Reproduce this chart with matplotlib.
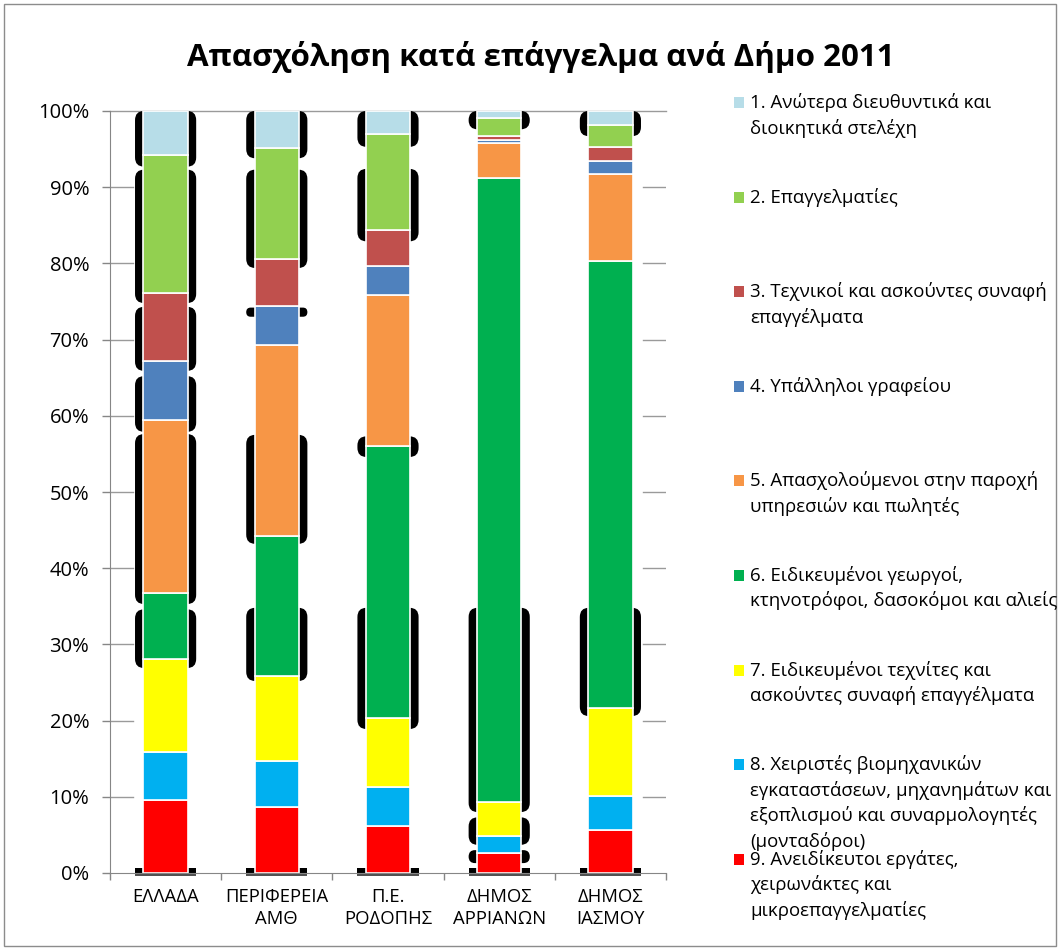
import matplotlib

matplotlib.use("Agg")
import matplotlib.pyplot as plt
import numpy as np
from matplotlib.patches import FancyBboxPatch, Rectangle

plt.rcParams["font.family"] = ["Open Sans", "DejaVu Sans"]

W, H = 1060, 950

categories = ["ΕΛΛΑΔΑ", "ΠΕΡΙΦΕΡΕΙΑ\nΑΜΘ", "Π.Ε.\nΡΟΔΟΠΗΣ", "ΔΗΜΟΣ\nΑΡΡΙΑΝΩΝ", "ΔΗΜΟΣ\nΙΑΣΜΟΥ"]

# share of employed (%) per occupation group
managers = [5.8, 4.8, 3.0, 0.9, 1.9]
professionals = [18.1, 14.6, 12.6, 2.4, 2.8]
technicians = [8.9, 6.2, 4.7, 0.5, 1.8]
clerks = [7.8, 5.1, 3.9, 0.4, 1.8]
services = [22.6, 25.1, 19.7, 4.6, 11.4]
agriculture = [8.7, 18.4, 35.8, 81.9, 58.6]
craft = [12.2, 11.1, 9.0, 4.4, 11.6]
operators = [6.3, 6.1, 5.1, 2.3, 4.5]
unskilled = [9.6, 8.6, 6.2, 2.6, 5.6]

series = [managers, professionals, technicians, clerks, services,
          agriculture, craft, operators, unskilled]
colors = ["#B7DDE8", "#92D050", "#C0504D", "#4F81BD", "#F79646",
          "#00B050", "#FFFF00", "#00B0F0", "#FF0000"]
legend_labels = [
    ["1. Ανώτερα διευθυντικά και", "διοικητικά στελέχη"],
    ["2. Επαγγελματίες"],
    ["3. Τεχνικοί και ασκούντες συναφή", "επαγγέλματα"],
    ["4. Υπάλληλοι γραφείου"],
    ["5. Απασχολούμενοι στην παροχή", "υπηρεσιών και πωλητές"],
    ["6. Ειδικευμένοι γεωργοί,", "κτηνοτρόφοι, δασοκόμοι και αλιείς"],
    ["7. Ειδικευμένοι τεχνίτες και", "ασκούντες συναφή επαγγέλματα"],
    ["8. Χειριστές βιομηχανικών", "εγκαταστάσεων, μηχανημάτων και",
     "εξοπλισμού και συναρμολογητές", "(μονταδόροι)"],
    ["9. Ανειδίκευτοι εργάτες,", "χειρωνάκτες και", "μικροεπαγγελματίες"],
]

# black rounded "shadow" pieces behind the bars (top %, bottom %)
outline_spans = [
    [(100, 92.7), (92.3, 74.8), (74.3, 65.9), (65.2, 57.9), (57.6, 35.3), (34.6, 26.9)],
    [(100, 93.8), (92.3, 79.4), (74.2, 73.0), (57.5, 43.2), (34.8, 25.2)],
    [(100, 95.3), (92.4, 82.9), (57.3, 54.6), (34.8, 18.9)],
    [(100, 97.6), (34.8, 8.0), (7.3, 3.7), (3.0, 1.3)],
    [(100, 96.7), (34.8, 20.6)],
]

fig = plt.figure(figsize=(W / 100, H / 100), dpi=100)
fig.patches.append(Rectangle((0.004, 0.004), 0.992, 0.992, transform=fig.transFigure,
                             fill=False, ec="#8c8c8c", lw=1))
ax = fig.add_axes([110 / W, 1 - 873 / H, 556 / W, 762 / H])

x = np.arange(len(categories))
bar_w = 0.4
shadow_w = 0.55
aspect = 15

# shadows
for i, spans in enumerate(outline_spans):
    for top, bot in spans:
        h = top - bot
        rs = min(0.08, 0.5 * h / aspect)
        ax.add_patch(FancyBboxPatch((x[i] - shadow_w / 2, bot), shadow_w, h,
                                    boxstyle=f"round,pad=0,rounding_size={rs}",
                                    mutation_aspect=aspect, fc="black", ec="none", zorder=1))
ax.bar(x, 0.7, width=shadow_w, color="black", zorder=1)
ax.hlines(np.full(len(x), -0.3), x - shadow_w / 2, x + shadow_w / 2, color="#303030",
          lw=1.2, clip_on=False, zorder=3)

# stacked bars, group 9 at the bottom
bottom = np.zeros(len(categories))
for vals, c in zip(series[::-1], colors[::-1]):
    ax.bar(x, vals, width=bar_w, bottom=bottom, color=c, edgecolor="white",
           linewidth=1.2, zorder=2)
    bottom += np.array(vals)

# gridlines only show at the edges of the plot area
for y in range(10, 100, 10):
    ax.axhline(y, xmin=0, xmax=0.041, color="#9a9a9a", lw=1, zorder=0)
    ax.axhline(y, xmin=0.959, xmax=1, color="#9a9a9a", lw=1, zorder=0)
ax.axhline(100, color="#9a9a9a", lw=1, zorder=0, clip_on=False)

ax.set_xlim(-0.5, 4.5)
ax.set_ylim(0, 100)
ax.set_yticks(range(0, 101, 10))
ax.set_yticklabels([f"{v}%" for v in range(0, 101, 10)])
ax.set_xticks(x)
ax.set_xticklabels(categories)
ax.set_xticks(np.arange(-0.5, 5, 1), minor=True)
ax.tick_params(axis="y", length=6, width=1, color="#868686", pad=9, labelsize=14.5)
ax.tick_params(axis="x", which="major", length=0, pad=11, labelsize=13.3)
ax.tick_params(axis="x", which="minor", length=5, width=1, color="#868686")
for t in ax.get_xticklabels():
    t.set_linespacing(1.25)
for spine in ("top", "right"):
    ax.spines[spine].set_visible(False)
for spine in ("left", "bottom"):
    ax.spines[spine].set_color("#868686")

fig.text(541 / W, 1 - 57 / H, "Απασχόληση κατά επάγγελμα ανά Δήμο 2011",
         ha="center", va="center", fontsize=22.6, fontweight="bold")

# legend drawn by hand so the entries keep the original spacing
for i, (c, lines) in enumerate(zip(colors, legend_labels)):
    base = 108 + 94.6 * i
    fig.patches.append(Rectangle((734 / W, 1 - base / H), 10 / W, 11 / H,
                                 transform=fig.transFigure, fc=c, ec="none"))
    for k, line in enumerate(lines):
        fig.text(750 / W, 1 - (base + 25.5 * k) / H, line, va="baseline", fontsize=13.4)

fig.savefig("out.png", dpi=100)
